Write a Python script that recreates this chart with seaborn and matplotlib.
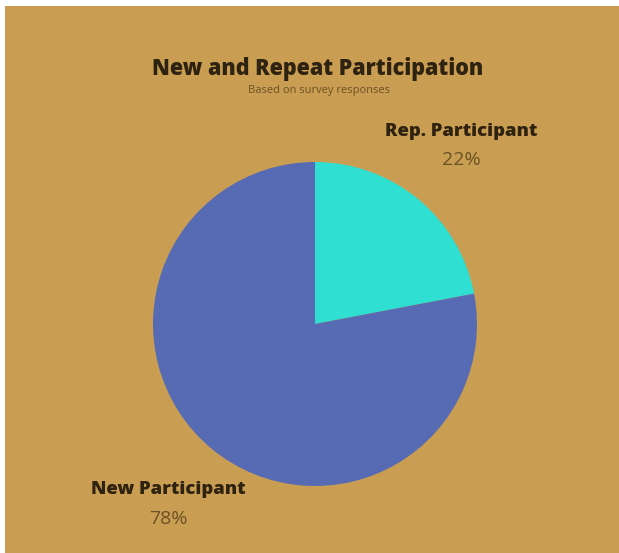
import matplotlib
matplotlib.use("Agg")
import matplotlib.pyplot as plt
import seaborn as sns
from matplotlib.patches import Rectangle

# Survey share of participants
categories = ["Rep. Participant", "New Participant"]
shares = [22, 78]
slice_colors = ["#2FE0D2", "#566BB3"]

title = "New and Repeat Participation"
subtitle = "Based on survey responses"

sns.set_theme(style="white")
plt.rcParams["font.family"] = ["Open Sans", "DejaVu Sans"]

W, H = 619, 553
fig = plt.figure(figsize=(W / 100, H / 100), dpi=100)
fig.patch.set_facecolor("white")

bg = "#C99D52"
fig.patches.append(Rectangle((5 / W, 0), 1 - 5 / W, 1 - 6 / H,
                             transform=fig.transFigure, facecolor=bg,
                             edgecolor="none", zorder=-10))

# Pie area: centre and radius in pixels
cx, cy, r = 315, 324, 162
ax = fig.add_axes([(cx - r) / W, (H - cy - r) / H, 2 * r / W, 2 * r / H])
ax.set_facecolor("none")

palette = sns.color_palette(slice_colors)
ax.pie(shares, colors=palette, startangle=90, counterclock=False,
       radius=1, wedgeprops=dict(linewidth=0))
ax.set_xlim(-1, 1)
ax.set_ylim(-1, 1)
ax.set_aspect("equal")
ax.axis("off")

dark = "#2E2210"
pct_col = "#6A5224"

fig.text(318 / W, 1 - 69 / H, title, ha="center", va="center",
         fontsize=15.5, fontweight=800, color=dark)
fig.text(319 / W, 1 - 91 / H, subtitle, ha="center", va="center",
         fontsize=8, color="#6A5224")

label_pos = {"Rep. Participant": (461, 131), "New Participant": (168, 490)}
for cat, val in zip(categories, shares):
    x, y = label_pos[cat]
    fig.text(x / W, 1 - y / H, cat, ha="center", va="center",
             fontsize=13.3, fontweight=800, color=dark)
    fig.text(x / W, 1 - (y + 29) / H, f"{val}%", ha="center", va="center",
             fontsize=14, color=pct_col)

fig.savefig("out.png", dpi=100, facecolor=fig.get_facecolor())
